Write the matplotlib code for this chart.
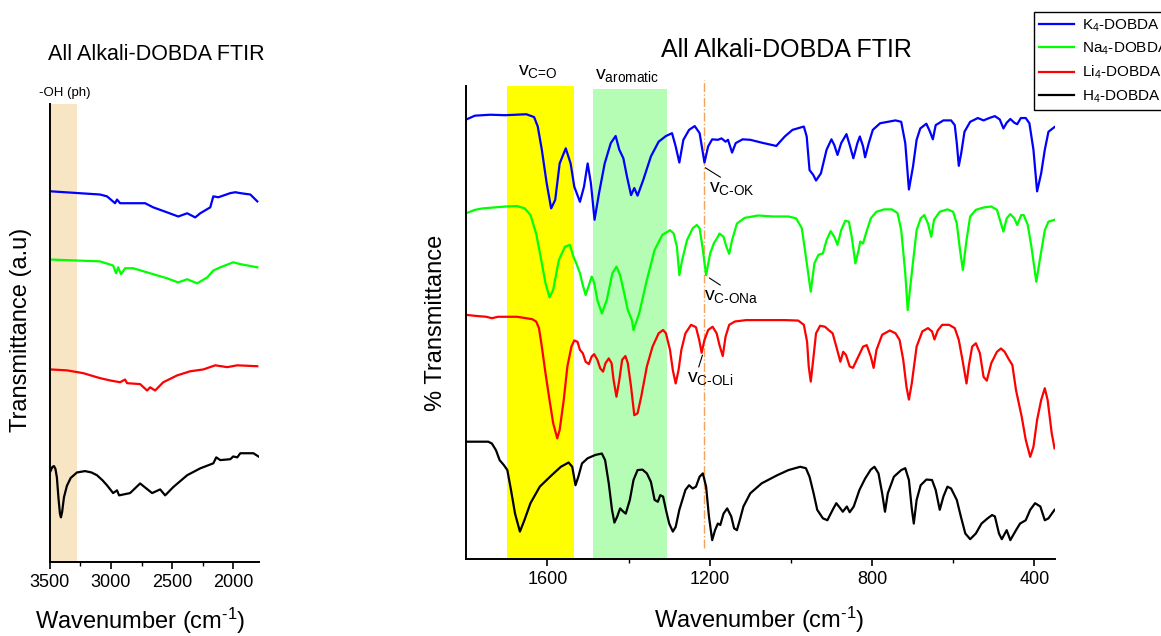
import matplotlib.pyplot as plt
from matplotlib.lines import Line2D

plt.rcParams['font.family'] = ['Liberation Sans', 'DejaVu Sans']
plt.rcParams['mathtext.fontset'] = 'custom'
plt.rcParams['mathtext.rm'] = 'Liberation Sans'
plt.rcParams['mathtext.it'] = 'Liberation Sans:italic'

labels = ["K$_4$-DOBDA", "Na$_4$-DOBDA", "Li$_4$-DOBDA", "H$_4$-DOBDA"]
colors = ["#0000FF", "#00FF00", "#FF0000", "#000000"]

# high wavenumber region (left panel): (wavenumber, transmittance a.u.), stacked
k4_hi = [(3495, 81.0), (3090, 80.3), (3033, 79.9), (2967, 78.4), (2951, 79.2), (2926, 78.4),
         (2819, 78.4), (2721, 78.4), (2655, 77.5), (2541, 76.4), (2450, 75.5), (2377, 76.2),
         (2311, 75.3), (2270, 76.2), (2188, 77.5), (2163, 79.9), (2122, 79.7), (2024, 80.6),
         (1983, 80.8), (1942, 80.6), (1860, 80.3), (1803, 78.8)]
na4_hi = [(3495, 66.1), (3090, 65.7), (2983, 64.8), (2959, 63.1), (2942, 64.4), (2918, 62.9),
          (2885, 64.2), (2819, 64.2), (2680, 63.1), (2541, 62.0), (2450, 61.1), (2377, 61.8),
          (2295, 60.9), (2213, 62.2), (2163, 63.7), (2106, 64.4), (2000, 65.5), (1942, 65.1),
          (1803, 64.4)]
li4_hi = [(3495, 42.1), (3361, 41.9), (3229, 41.3), (3090, 40.2), (3008, 39.7), (2926, 39.3),
          (2885, 39.9), (2869, 39.1), (2762, 38.9), (2705, 37.5), (2680, 38.2), (2639, 37.5),
          (2573, 39.3), (2459, 40.8), (2352, 41.7), (2245, 42.1), (2147, 43.0), (2049, 42.6),
          (1967, 43.0), (1803, 42.8)]
h4_hi = [(3495, 19.9), (3480, 20.8), (3467, 21.0), (3455, 20.4), (3443, 18.5), (3430, 14.0),
         (3418, 10.6), (3410, 9.8), (3400, 11.0), (3385, 14.2), (3361, 16.7), (3330, 18.4),
         (3279, 19.6), (3213, 19.9), (3160, 19.6), (3115, 19.0), (3070, 17.9), (3033, 16.8),
         (2983, 15.1), (2951, 15.7), (2934, 14.6), (2844, 15.1), (2762, 17.2), (2664, 15.1),
         (2598, 15.9), (2557, 14.6), (2491, 16.4), (2377, 19.0), (2270, 20.5), (2163, 21.6),
         (2139, 22.9), (2106, 22.3), (2024, 22.5), (2000, 23.1), (1967, 22.9), (1942, 23.8),
         (1835, 23.8), (1794, 23.1)]

# fingerprint region (right panel): (wavenumber, % transmittance), stacked
k4_lo = [(1800, 92.9), (1779, 93.7), (1741, 93.9), (1704, 93.8), (1652, 94.0), (1633, 93.4),
         (1624, 91.4), (1614, 86.5), (1602, 79.4), (1591, 74.1), (1581, 75.9), (1570, 83.6),
         (1555, 86.8), (1543, 83.6), (1534, 78.7), (1520, 75.5), (1510, 78.7), (1501, 83.6),
         (1493, 79.4), (1484, 71.7), (1473, 77.3), (1459, 83.6), (1444, 87.9), (1432, 89.4),
         (1423, 86.5), (1413, 84.7), (1404, 80.8), (1394, 76.9), (1386, 78.4), (1378, 76.8),
         (1364, 80.1), (1345, 85.1), (1326, 88.2), (1308, 89.4), (1293, 90.0), (1284, 87.2),
         (1275, 83.8), (1265, 88.6), (1251, 90.7), (1237, 91.5), (1225, 90.0), (1213, 83.8),
         (1204, 87.2), (1194, 88.7), (1180, 88.6), (1171, 88.9), (1161, 88.2), (1155, 88.6),
         (1145, 85.9), (1136, 87.9), (1119, 88.7), (1100, 88.6), (1072, 88.0), (1036, 87.3),
         (1015, 89.3), (996, 90.7), (968, 91.4), (961, 89.3), (954, 82.2), (945, 81.2),
         (938, 80.0), (926, 81.5), (912, 86.5), (900, 88.7), (893, 87.5), (885, 85.4),
         (876, 87.9), (863, 89.8), (855, 87.5), (846, 84.7), (836, 87.9), (830, 89.3),
         (822, 87.2), (817, 84.9), (808, 87.9), (798, 90.7), (780, 92.1), (742, 92.7),
         (728, 92.4), (718, 87.9), (709, 78.1), (699, 82.9), (690, 88.6), (681, 91.0),
         (666, 92.0), (657, 90.3), (650, 88.7), (643, 91.7), (624, 92.7), (605, 92.7),
         (596, 91.7), (591, 87.9), (586, 83.1), (580, 85.8), (572, 90.3), (558, 92.4),
         (539, 93.2), (525, 92.7), (511, 93.2), (497, 93.6), (485, 92.9), (476, 91.0),
         (468, 92.2), (459, 93.0), (449, 92.2), (442, 91.9), (433, 93.2), (421, 93.2),
         (412, 92.1), (402, 86.5), (393, 77.7), (383, 81.5), (374, 86.5), (365, 90.3),
         (350, 91.3)]
na4_lo = [(1800, 73.1), (1779, 73.8), (1760, 74.1), (1732, 74.3), (1704, 74.5), (1675, 74.6),
          (1656, 74.1), (1642, 72.7), (1628, 68.8), (1617, 63.9), (1605, 58.3), (1595, 55.3),
          (1586, 56.9), (1572, 63.2), (1557, 66.0), (1545, 66.4), (1536, 63.9), (1529, 62.5),
          (1520, 60.4), (1513, 57.9), (1506, 55.8), (1499, 57.6), (1491, 59.7), (1485, 58.4),
          (1477, 54.7), (1466, 51.9), (1454, 54.7), (1440, 60.4), (1430, 61.8), (1421, 60.0),
          (1411, 56.2), (1402, 52.6), (1392, 50.5), (1388, 48.4), (1374, 51.9), (1355, 59.0),
          (1336, 65.3), (1317, 68.5), (1298, 69.5), (1289, 68.8), (1281, 66.0), (1275, 60.0),
          (1268, 63.2), (1256, 67.4), (1242, 69.9), (1232, 70.6), (1225, 69.9), (1218, 66.0),
          (1209, 60.0), (1199, 64.6), (1190, 66.7), (1180, 68.1), (1176, 68.8), (1166, 68.1),
          (1159, 66.0), (1152, 64.5), (1145, 67.4), (1133, 70.9), (1114, 72.1), (1081, 72.6),
          (1044, 72.4), (1006, 72.4), (987, 72.0), (973, 69.9), (963, 63.9), (951, 56.5),
          (942, 62.5), (932, 64.3), (921, 64.6), (912, 67.4), (902, 69.3), (893, 68.1),
          (885, 66.4), (876, 69.5), (866, 71.5), (857, 71.3), (850, 68.1), (841, 62.5),
          (833, 65.3), (829, 67.1), (822, 66.7), (815, 68.8), (803, 72.0), (789, 73.4),
          (770, 73.9), (751, 73.9), (737, 73.1), (728, 69.5), (718, 60.4), (712, 52.6),
          (702, 60.4), (690, 69.5), (680, 72.0), (671, 72.7), (662, 70.9), (654, 68.1),
          (647, 71.7), (633, 73.4), (614, 73.9), (600, 73.4), (591, 70.9), (583, 65.3),
          (576, 61.1), (567, 67.4), (558, 72.4), (544, 73.8), (525, 74.3), (506, 74.5),
          (492, 73.8), (482, 70.9), (476, 69.2), (468, 72.0), (459, 72.9), (449, 72.0),
          (442, 70.6), (432, 72.7), (426, 72.7), (416, 70.6), (407, 66.0), (395, 58.6),
          (385, 63.9), (374, 69.5), (365, 71.3), (350, 71.7)]
li4_lo = [(1800, 51.6), (1779, 51.4), (1751, 51.2), (1737, 50.9), (1722, 51.2), (1675, 51.2),
          (1638, 50.7), (1628, 50.2), (1621, 48.8), (1614, 44.9), (1605, 39.3), (1595, 33.6),
          (1586, 28.7), (1576, 25.5), (1570, 27.3), (1560, 33.6), (1551, 40.7), (1541, 44.9),
          (1534, 46.2), (1526, 45.9), (1520, 44.2), (1513, 43.5), (1506, 41.7), (1498, 41.2),
          (1491, 42.8), (1485, 43.3), (1477, 42.1), (1470, 40.3), (1463, 39.6), (1457, 41.4),
          (1449, 42.4), (1442, 41.4), (1437, 37.8), (1430, 34.3), (1423, 37.8), (1416, 42.1),
          (1408, 42.9), (1402, 41.4), (1394, 36.4), (1386, 30.4), (1378, 30.8), (1369, 34.3),
          (1355, 40.7), (1341, 44.9), (1326, 47.7), (1315, 48.4), (1308, 47.7), (1298, 44.2),
          (1291, 39.9), (1284, 37.1), (1277, 39.9), (1270, 44.2), (1260, 47.7), (1246, 49.5),
          (1234, 49.0), (1226, 46.3), (1220, 43.6), (1213, 46.3), (1204, 48.4), (1193, 49.1),
          (1183, 47.7), (1176, 45.2), (1168, 42.9), (1161, 47.0), (1152, 49.5), (1138, 50.2),
          (1110, 50.5), (1062, 50.5), (1015, 50.5), (982, 50.4), (968, 49.5), (960, 45.9),
          (956, 40.7), (951, 37.5), (945, 42.1), (938, 47.7), (928, 49.3), (916, 49.1),
          (907, 48.4), (897, 47.7), (888, 44.9), (878, 41.7), (871, 43.8), (864, 43.1),
          (855, 40.7), (847, 40.4), (836, 42.4), (822, 44.9), (813, 45.2), (803, 42.8),
          (796, 40.4), (789, 44.2), (775, 47.4), (756, 48.3), (742, 47.7), (732, 46.3),
          (723, 42.1), (715, 36.4), (709, 33.7), (702, 37.1), (690, 44.9), (676, 48.1),
          (662, 48.8), (652, 48.1), (646, 46.4), (638, 48.3), (627, 49.5), (610, 49.5),
          (596, 48.8), (586, 46.3), (577, 42.1), (567, 37.1), (561, 41.0), (553, 44.9),
          (544, 45.6), (534, 43.5), (525, 38.5), (517, 37.7), (506, 41.4), (492, 43.8),
          (482, 44.5), (473, 43.8), (464, 42.4), (454, 41.0), (445, 35.7), (431, 30.1),
          (421, 25.2), (410, 21.6), (402, 23.7), (393, 29.4), (383, 33.6), (374, 36.1),
          (367, 33.6), (357, 26.6), (350, 23.4)]
h4_lo = [(1800, 24.8), (1770, 24.8), (1746, 24.8), (1737, 24.4), (1727, 23.0), (1718, 20.9),
         (1708, 19.9), (1699, 18.8), (1690, 14.6), (1680, 9.6), (1668, 5.8), (1657, 8.2),
         (1642, 11.8), (1619, 15.3), (1590, 17.7), (1567, 19.5), (1548, 20.4), (1539, 19.5),
         (1531, 15.6), (1524, 17.4), (1515, 20.2), (1501, 21.3), (1482, 22.0), (1466, 22.3),
         (1458, 20.9), (1449, 16.0), (1441, 10.4), (1435, 7.7), (1428, 9.0), (1421, 10.7),
         (1413, 10.0), (1407, 9.6), (1397, 12.5), (1388, 16.7), (1378, 18.8), (1366, 18.9),
         (1355, 18.1), (1345, 16.3), (1336, 12.5), (1328, 12.1), (1322, 13.5), (1315, 13.2),
         (1308, 10.4), (1300, 7.5), (1291, 5.8), (1284, 6.8), (1275, 10.4), (1260, 14.6),
         (1251, 15.6), (1242, 14.9), (1234, 15.3), (1225, 17.4), (1217, 18.1), (1209, 15.3),
         (1202, 9.0), (1194, 4.0), (1187, 6.1), (1180, 7.5), (1174, 7.2), (1166, 9.6),
         (1157, 10.7), (1147, 9.0), (1140, 6.5), (1133, 6.1), (1127, 7.9), (1117, 11.1),
         (1100, 13.9), (1072, 16.0), (1034, 17.7), (1006, 18.8), (977, 19.5), (963, 19.2),
         (954, 17.4), (944, 13.9), (935, 10.4), (921, 8.6), (910, 8.2), (897, 10.4),
         (888, 11.8), (878, 10.7), (872, 10.0), (862, 11.1), (855, 9.9), (845, 11.1),
         (831, 14.6), (817, 17.0), (803, 18.9), (794, 19.5), (784, 18.1), (775, 13.9),
         (768, 10.0), (761, 13.9), (746, 17.4), (728, 18.8), (718, 19.2), (709, 16.7),
         (702, 10.7), (697, 7.5), (690, 12.5), (680, 15.6), (666, 16.8), (652, 16.7),
         (643, 14.6), (633, 10.4), (624, 13.2), (614, 15.3), (605, 14.9), (591, 12.5),
         (581, 9.0), (570, 5.4), (558, 4.2), (544, 5.4), (530, 7.5), (515, 8.6),
         (504, 9.3), (497, 9.0), (487, 5.4), (480, 4.2), (468, 6.1), (459, 4.0),
         (445, 6.1), (435, 7.5), (421, 8.2), (410, 10.4), (398, 11.8), (385, 11.1),
         (374, 8.2), (365, 8.6), (350, 10.4)]

hi_series = [k4_hi, na4_hi, li4_hi, h4_hi]
lo_series = [k4_lo, na4_lo, li4_lo, h4_lo]

fig = plt.figure(figsize=(11.61, 6.36), dpi=100)
ax1 = fig.add_axes([0.043, 0.116, 0.180, 0.720])
ax2 = fig.add_axes([0.401, 0.121, 0.508, 0.744])

for ax in (ax1, ax2):
    for s in ("top", "right"):
        ax.spines[s].set_visible(False)
    for s in ("left", "bottom"):
        ax.spines[s].set_linewidth(1.4)
    ax.set_yticks([])
    ax.tick_params(axis="x", which="major", direction="out", length=5, width=1.2, labelsize=13)
    ax.tick_params(axis="x", which="minor", direction="out", length=3, width=1.0)

xlab = r"Wavenumber (cm$^{\text{-1}}$)"

# left panel
ax1.axvspan(3500, 3280, color="#F8E5C4", lw=0, zorder=0)
for data, c in zip(hi_series, colors):
    wn, t = zip(*data)
    ax1.plot(wn, t, color=c, lw=1.6)
ax1.set_xlim(3500, 1790)
ax1.set_ylim(0, 100)
ax1.set_xticks([3500, 3000, 2500, 2000])
ax1.set_xticks([3250, 2750, 2250], minor=True)
ax1.annotate("-OH (ph)", xy=(3381, 1.024), xycoords=("data", "axes fraction"),
             ha="center", va="center", fontsize=9.5)
ax1.set_xlabel(xlab, fontsize=17)
ax1.xaxis.set_label_coords(0.43, -0.095)
ax1.set_ylabel("Transmittance (a.u)", fontsize=17)
ax1.yaxis.set_label_coords(-0.086, 0.507)

# right panel
ax2.axvspan(1700, 1535, color="#FFFF00", lw=0, zorder=0)
ax2.axvspan(1488, 1306, ymax=0.993, color="#B5FDB5", lw=0, zorder=0)
ax2.plot([1215, 1215], [2.3, 101.3], color="#F5A35A", lw=1.0, ls="-.", clip_on=False, zorder=1)
for data, c in zip(lo_series, colors):
    wn, t = zip(*data)
    ax2.plot(wn, t, color=c, lw=1.6)
ax2.set_xlim(1802, 348)
ax2.set_ylim(0, 100)
ax2.set_xticks([1600, 1200, 800, 400])
ax2.set_xticks([1400, 1000, 600], minor=True)
ax2.set_xlabel(xlab, fontsize=17)
ax2.xaxis.set_label_coords(0.498, -0.097)
ax2.set_ylabel("% Transmittance", fontsize=17)
ax2.yaxis.set_label_coords(-0.031, 0.50)

ax2.annotate(r"v$_{\text{C=O}}$", xy=(1625, 1.03), xycoords=("data", "axes fraction"),
             ha="center", va="center", fontsize=14)
ax2.annotate(r"v$_{\text{aromatic}}$", xy=(1404, 1.021), xycoords=("data", "axes fraction"),
             ha="center", va="center", fontsize=14)

lead = dict(arrowstyle="-", color="black", lw=0.8, shrinkA=0, shrinkB=0)
ax2.annotate(r"v$_{\text{C-OK}}$", xy=(1211, 82.7), xytext=(1201, 80.1),
             ha="left", va="top", fontsize=14, arrowprops=dict(lead, relpos=(0.34, 1.0)))
ax2.annotate(r"v$_{\text{C-ONa}}$", xy=(1201, 59.4), xytext=(1213, 57.3),
             ha="left", va="top", fontsize=14, arrowprops=dict(lead, relpos=(0.37, 1.0)))
ax2.annotate(r"v$_{\text{C-OLi}}$", xy=(1218, 43.1), xytext=(1257, 40.0),
             ha="left", va="top", fontsize=14, arrowprops=dict(lead, relpos=(0.24, 1.0)))

fig.text(156 / 1161, 1 - 55 / 636, "All Alkali-DOBDA FTIR", ha="center", va="center", fontsize=15.5)
fig.text(786 / 1161, 1 - 50 / 636, "All Alkali-DOBDA FTIR", ha="center", va="center", fontsize=18)

handles = [Line2D([], [], color=c, lw=1.6) for c in colors]
fig.legend(handles, labels, loc="upper left", bbox_to_anchor=(1034 / 1161, 1 - 12 / 636),
           fontsize=11, frameon=True, fancybox=False, edgecolor="black", framealpha=1,
           borderaxespad=0, handlelength=2.3, labelspacing=0.45, borderpad=0.35,
           handletextpad=0.5)

fig.savefig("out.png", dpi=100)
